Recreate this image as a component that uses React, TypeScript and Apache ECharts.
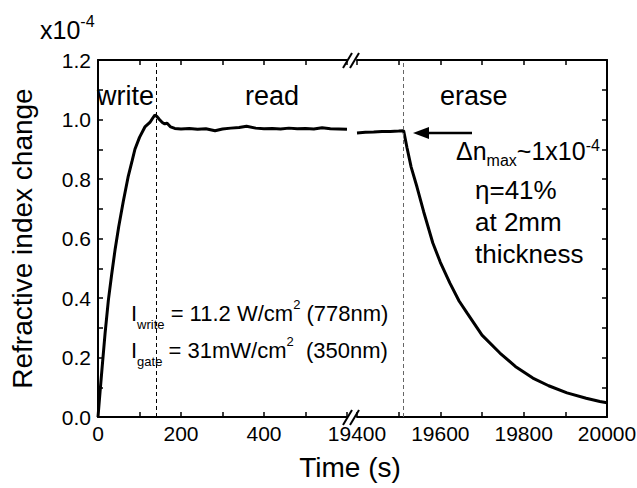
import React, { useEffect, useRef } from 'react';
import * as echarts from 'echarts';

// Write + read phase (left part of the broken time axis)
const leftTime = [0, 5, 10, 17, 25, 33, 41, 50, 61, 73, 82, 89, 100, 113, 125, 132, 137, 142, 148, 155, 161, 166, 175, 185, 200, 220, 240, 260, 282, 300, 320, 340, 358, 380, 400, 420, 440, 460, 480, 500, 520, 540, 560, 580, 600];
const leftValue = [0, 0.085, 0.168, 0.28, 0.393, 0.48, 0.561, 0.64, 0.725, 0.81, 0.86, 0.9, 0.94, 0.975, 0.99, 1.005, 1.015, 1.01, 1.0, 0.99, 0.985, 0.988, 0.975, 0.97, 0.968, 0.97, 0.967, 0.969, 0.962, 0.968, 0.971, 0.973, 0.977, 0.971, 0.969, 0.97, 0.968, 0.971, 0.969, 0.97, 0.968, 0.972, 0.969, 0.968, 0.967];

// Read end + erase phase (right part of the broken time axis)
const rightTime = [19400, 19420, 19440, 19460, 19480, 19500, 19512, 19520, 19530, 19544, 19560, 19582, 19600, 19623, 19645, 19664, 19700, 19743, 19780, 19822, 19860, 19904, 19950, 19983, 20000];
const rightValue = [0.955, 0.957, 0.958, 0.96, 0.96, 0.961, 0.962, 0.905, 0.84, 0.773, 0.69, 0.585, 0.52, 0.45, 0.39, 0.35, 0.275, 0.215, 0.17, 0.131, 0.105, 0.081, 0.063, 0.052, 0.048];

// Phase boundaries (s)
const writeEnd = 140;
const eraseStart = 19512;

// Axis ranges / ticks
const leftRange = [0, 600];
const rightRange = [19400, 20000];
const xTickStep = 100;
const xLabelStep = 200;
const yRange = [0, 1.2];
const yTickStep = 0.1;

const FONT = 'Liberation Sans, Arial, Helvetica, sans-serif';

export default function App() {
  const ref = useRef<HTMLDivElement>(null);

  useEffect(() => {
    document.body.style.margin = '0';
    const chart = echarts.init(ref.current as HTMLDivElement, null, { renderer: 'svg' });

    const axisLine = { show: true, onZero: false, lineStyle: { color: '#000', width: 2 } };
    const axisTick = { show: true, inside: true, length: 5, lineStyle: { color: '#000', width: 1.5 } };

    const xCommon = (gridIndex: number, range: number[], position: string, labels: boolean, hideMax: boolean) => ({
      type: 'value',
      gridIndex,
      position,
      min: range[0],
      max: range[1],
      interval: xTickStep,
      axisLine,
      axisTick,
      splitLine: { show: false },
      axisLabel: labels
        ? {
            show: true,
            showMinLabel: true,
            showMaxLabel: true,
            margin: 6,
            color: '#000',
            fontSize: 21,
            fontFamily: FONT,
            formatter: (v: number) =>
              Math.round(v) % xLabelStep === 0 && !(hideMax && v >= range[1]) ? String(Math.round(v)) : '',
          }
        : { show: false },
    });

    const yCommon = (gridIndex: number, position: string, labels: boolean) => ({
      type: 'value',
      gridIndex,
      position,
      min: yRange[0],
      max: yRange[1],
      interval: yTickStep,
      axisLine,
      axisTick,
      splitLine: { show: false },
      axisLabel: labels
        ? {
            show: true,
            showMinLabel: true,
            showMaxLabel: true,
            margin: 7,
            color: '#000',
            fontSize: 21,
            fontFamily: FONT,
            formatter: (v: number) => (Math.round(v * 10) % 2 === 0 ? v.toFixed(1) : ''),
          }
        : { show: false },
      ...(labels
        ? {
            name: 'Refractive index change',
            nameLocation: 'middle',
            nameGap: 62,
            nameTextStyle: { color: '#000', fontSize: 28, fontFamily: FONT },
          }
        : {}),
    });

    const main = (size: number, lh: number) => ({ fontSize: size, fontFamily: FONT, fill: '#000', color: '#000', lineHeight: lh });
    const sub = (size: number, h: number) => ({ fontSize: size, fontFamily: FONT, fill: '#000', color: '#000', lineHeight: h, height: h, verticalAlign: 'bottom' });
    const sup = (size: number, h: number) => ({ fontSize: size, fontFamily: FONT, fill: '#000', color: '#000', lineHeight: h, height: h, verticalAlign: 'top' });

    const plainText = (text: string, x: number, y: number, size: number, align = 'left') => ({
      type: 'text',
      x,
      y,
      silent: true,
      style: { text, fontSize: size, fontFamily: FONT, fill: '#000', align, verticalAlign: 'middle' },
    });

    const slash = (x: number, y: number) => ({
      type: 'line',
      silent: true,
      shape: { x1: x, y1: y + 8, x2: x + 9, y2: y - 7 },
      style: { stroke: '#000', lineWidth: 2 },
    });

    const option = {
      animation: false,
      backgroundColor: '#fff',
      grid: [
        { left: 98, top: 60, width: 249, height: 357, outerBoundsMode: 'none', containLabel: false },
        { left: 357, top: 60, width: 250, height: 357, outerBoundsMode: 'none', containLabel: false },
      ],
      xAxis: [
        xCommon(0, leftRange, 'bottom', true, true),
        xCommon(1, rightRange, 'bottom', true, false),
        xCommon(0, leftRange, 'top', false, true),
        xCommon(1, rightRange, 'top', false, false),
      ],
      yAxis: [yCommon(0, 'left', true), yCommon(1, 'right', false)],
      series: [
        {
          type: 'line',
          xAxisIndex: 0,
          yAxisIndex: 0,
          data: leftTime.map((t, i) => [t, leftValue[i]]),
          showSymbol: false,
          symbol: 'none',
          lineStyle: { color: '#000', width: 3 },
          itemStyle: { color: '#000' },
          markLine: {
            silent: true,
            symbol: 'none',
            label: { show: false },
            lineStyle: { color: '#000', width: 1, type: [4, 3] },
            data: [{ xAxis: writeEnd }],
          },
        },
        {
          type: 'line',
          xAxisIndex: 1,
          yAxisIndex: 1,
          data: rightTime.map((t, i) => [t, rightValue[i]]),
          showSymbol: false,
          symbol: 'none',
          lineStyle: { color: '#000', width: 3 },
          itemStyle: { color: '#000' },
          markLine: {
            silent: true,
            symbol: 'none',
            label: { show: false },
            lineStyle: { color: '#666', width: 1, type: [4, 3] },
            data: [{ xAxis: eraseStart }],
          },
        },
      ],
      graphic: [
        // axis break marks
        slash(343, 417),
        slash(350, 417),
        slash(343, 60),
        slash(350, 60),
        // x axis title
        plainText('Time (s)', 350, 467, 28, 'center'),
        // exponent
        {
          type: 'text',
          x: 40,
          y: 30,
          silent: true,
          style: {
            text: '{m|x10}{p|-4}',
            verticalAlign: 'middle',
            rich: { m: main(25, 30), p: sup(16, 12) },
          },
        },
        // phase labels
        plainText('write', 97, 96, 27),
        plainText('read', 245, 96, 27),
        plainText('erase', 440, 96, 27),
        // arrow
        {
          type: 'line',
          silent: true,
          shape: { x1: 472, y1: 133, x2: 424, y2: 133 },
          style: { stroke: '#000', lineWidth: 2.5 },
        },
        {
          type: 'polygon',
          silent: true,
          shape: { points: [[413, 133], [429, 127], [429, 139]] },
          style: { fill: '#000' },
        },
        // right annotation
        {
          type: 'text',
          x: 456,
          y: 151,
          silent: true,
          style: {
            text: '{m|Δn}{s|max}{m|~1x10}{p|-4}',
            verticalAlign: 'middle',
            rich: { m: main(25, 34), s: sub(16, 15), p: sup(16, 22) },
          },
        },
        plainText('η=41%', 475, 190, 26),
        plainText('at 2mm', 475, 222, 26),
        plainText('thickness', 475, 254, 26),
        // intensity annotations
        {
          type: 'text',
          x: 131,
          y: 313,
          silent: true,
          style: {
            text: '{m|I}{s|write}{m| = 11.2 W/cm}{p|2}{m| (778nm)}',
            verticalAlign: 'middle',
            rich: { m: main(22, 34), s: sub(13, 12), p: sup(13, 16) },
          },
        },
        {
          type: 'text',
          x: 131,
          y: 350,
          silent: true,
          style: {
            text: '{m|I}{s|gate}{m| = 31mW/cm}{p|2}{m|  (350nm)}',
            verticalAlign: 'middle',
            rich: { m: main(22, 34), s: sub(13, 12), p: sup(13, 16) },
          },
        },
      ],
    };

    chart.setOption(option as any);
    return () => chart.dispose();
  }, []);

  return <div ref={ref} style={{ width: 637, height: 488 }} />;
}
